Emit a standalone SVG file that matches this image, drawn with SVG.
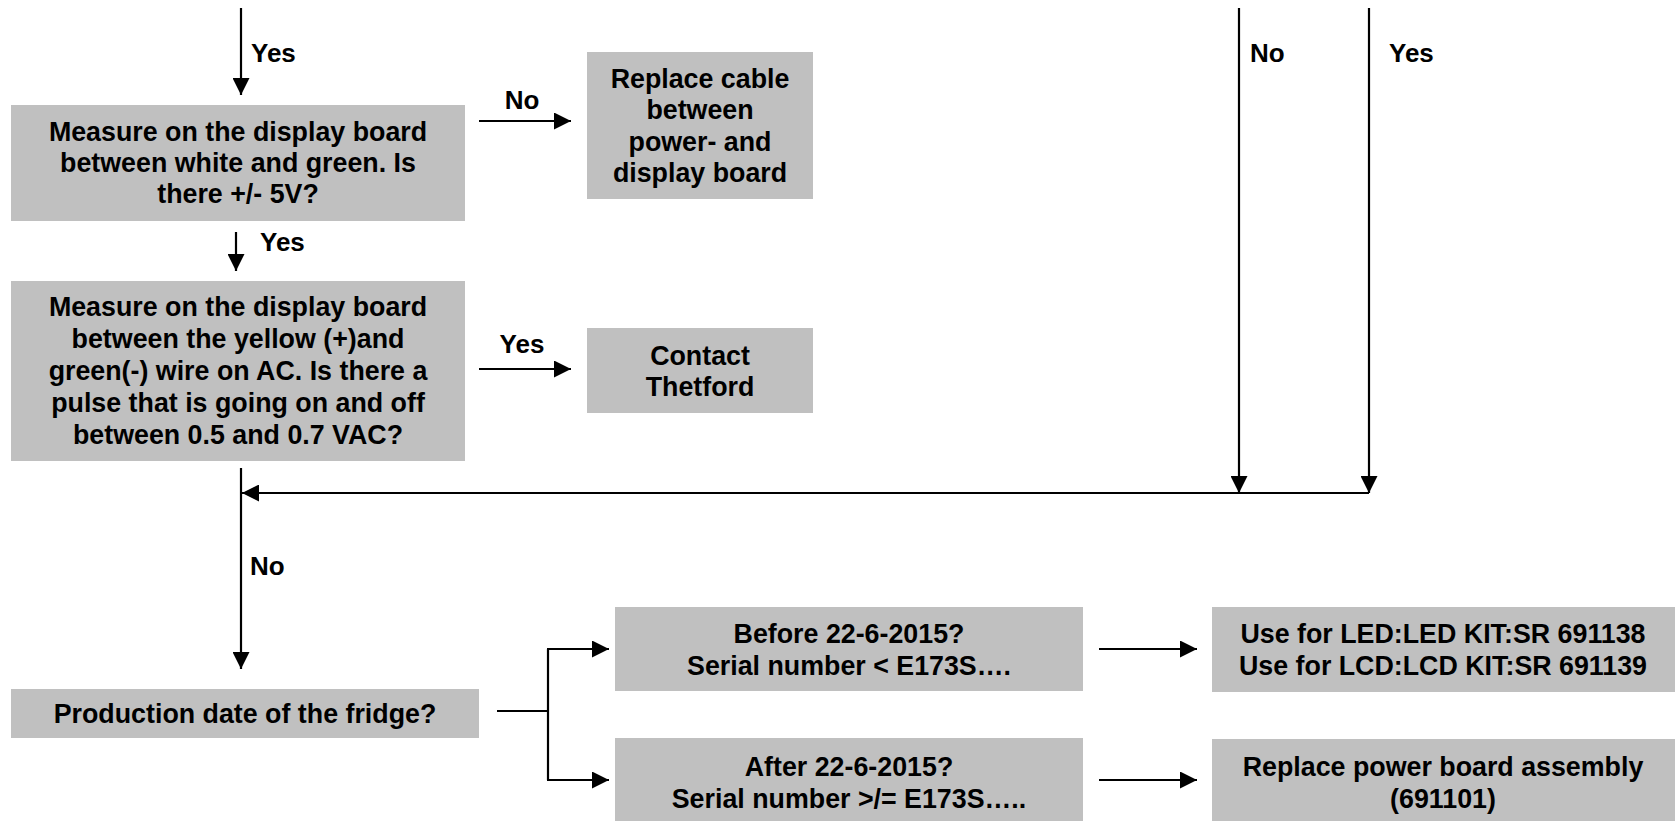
<svg xmlns="http://www.w3.org/2000/svg" width="1675" height="821" viewBox="0 0 1675 821">
<style>
.box{fill:#c0c0c0;stroke:none}
.t{font-family:"Liberation Sans",Arial,sans-serif;font-weight:bold;font-size:26.8px;fill:#000;text-anchor:middle}
.lbl{font-family:"Liberation Sans",Arial,sans-serif;font-weight:bold;font-size:26px;fill:#000}
.c{fill:none;stroke:#000;stroke-width:2.2}
</style>
<defs>
<marker id="ah" markerUnits="userSpaceOnUse" markerWidth="17" markerHeight="17" refX="17" refY="8.5" orient="auto">
<path d="M0,0 L17,8.5 L0,17 z" fill="#000"/>
</marker>
</defs>
<rect width="1675" height="821" fill="#fff"/>
<g id="connectors">
<line class="c" x1="241" y1="8" x2="241" y2="95" marker-end="url(#ah)"/>
<line class="c" x1="479" y1="121" x2="571" y2="121" marker-end="url(#ah)"/>
<line class="c" x1="236" y1="232" x2="236" y2="271" marker-end="url(#ah)"/>
<line class="c" x1="479" y1="369" x2="571" y2="369" marker-end="url(#ah)"/>
<line class="c" x1="241" y1="468" x2="241" y2="669" marker-end="url(#ah)"/>
<line class="c" x1="1239" y1="8" x2="1239" y2="493" marker-end="url(#ah)"/>
<line class="c" x1="1369" y1="8" x2="1369" y2="493" marker-end="url(#ah)"/>
<line class="c" x1="1369" y1="493" x2="242" y2="493" marker-end="url(#ah)"/>
<line class="c" x1="497" y1="711" x2="548" y2="711"/>
<line class="c" x1="548" y1="649" x2="548" y2="780"/>
<line class="c" x1="547" y1="649" x2="609" y2="649" marker-end="url(#ah)"/>
<line class="c" x1="547" y1="780" x2="609" y2="780" marker-end="url(#ah)"/>
<line class="c" x1="1099" y1="649" x2="1197" y2="649" marker-end="url(#ah)"/>
<line class="c" x1="1099" y1="780" x2="1197" y2="780" marker-end="url(#ah)"/>
<text class="lbl" x="251" y="62">Yes</text>
<text class="lbl" x="522" y="109" text-anchor="middle">No</text>
<text class="lbl" x="260" y="251">Yes</text>
<text class="lbl" x="522" y="353" text-anchor="middle">Yes</text>
<text class="lbl" x="250" y="575">No</text>
<text class="lbl" x="1250" y="62">No</text>
<text class="lbl" x="1389" y="62">Yes</text>
</g>
<g id="box1">
<rect class="box" x="11" y="105" width="454" height="116"/>
<text class="t" x="238" y="141">Measure on the display board</text>
<text class="t" x="238" y="172">between white and green. Is</text>
<text class="t" x="238" y="203">there +/- 5V?</text>
</g>
<g id="replace-cable">
<rect class="box" x="587" y="52" width="226" height="147"/>
<text class="t" x="700" y="88">Replace cable</text>
<text class="t" x="700" y="119">between</text>
<text class="t" x="700" y="151">power- and</text>
<text class="t" x="700" y="182">display board</text>
</g>
<g id="box2">
<rect class="box" x="11" y="281" width="454" height="180"/>
<text class="t" x="238" y="316">Measure on the display board</text>
<text class="t" x="238" y="348">between the yellow (+)and</text>
<text class="t" x="238" y="380">green(-) wire on AC. Is there a</text>
<text class="t" x="238" y="412">pulse that is going on and off</text>
<text class="t" x="238" y="444">between 0.5 and 0.7 VAC?</text>
</g>
<g id="contact">
<rect class="box" x="587" y="328" width="226" height="85"/>
<text class="t" x="700" y="365">Contact</text>
<text class="t" x="700" y="396">Thetford</text>
</g>
<g id="production">
<rect class="box" x="11" y="689" width="468" height="49"/>
<text class="t" x="245" y="723">Production date of the fridge?</text>
</g>
<g id="before">
<rect class="box" x="615" y="607" width="468" height="84"/>
<text class="t" x="849" y="643">Before 22-6-2015?</text>
<text class="t" x="849" y="675">Serial number &lt; E173S….</text>
</g>
<g id="after">
<rect class="box" x="615" y="738" width="468" height="83"/>
<text class="t" x="849" y="776">After 22-6-2015?</text>
<text class="t" x="849" y="808">Serial number &gt;/= E173S…..</text>
</g>
<g id="kit">
<rect class="box" x="1212" y="607" width="463" height="85"/>
<text class="t" x="1443" y="643">Use for LED:LED KIT:SR 691138</text>
<text class="t" x="1443" y="675">Use for LCD:LCD KIT:SR 691139</text>
</g>
<g id="replace-power">
<rect class="box" x="1212" y="739" width="463" height="82"/>
<text class="t" x="1443" y="776">Replace power board assembly</text>
<text class="t" x="1443" y="808">(691101)</text>
</g>
</svg>
